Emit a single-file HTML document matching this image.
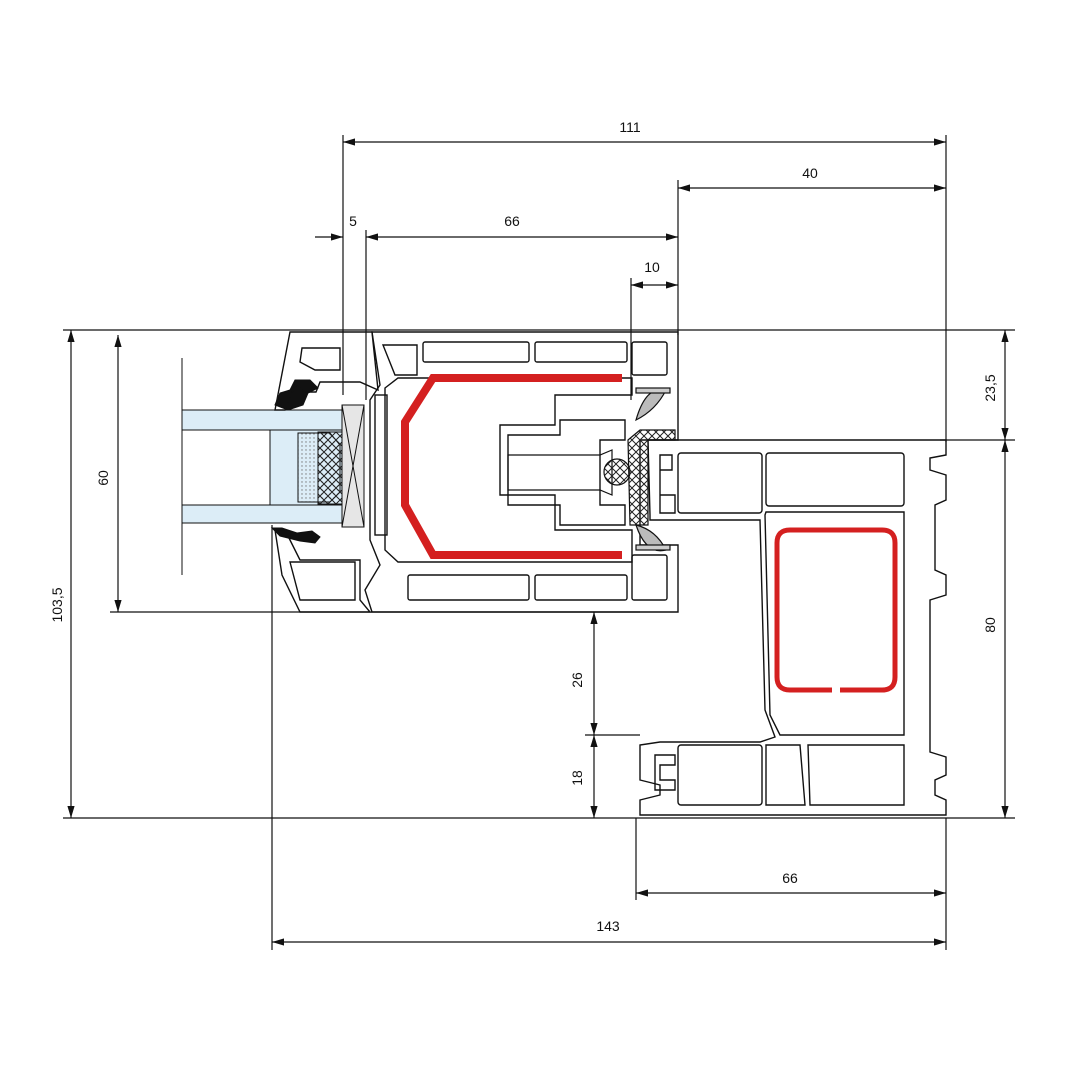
<!DOCTYPE html>
<html><head><meta charset="utf-8"><style>html,body{margin:0;padding:0;background:#fff}svg{display:block}</style></head><body>
<svg width="1080" height="1080" viewBox="0 0 1080 1080" xmlns="http://www.w3.org/2000/svg" font-family="Liberation Sans, sans-serif" font-size="14" fill="none" stroke="#111">
<defs>
<marker id="a" viewBox="0 0 10 6" refX="10" refY="3" markerWidth="10" markerHeight="6" orient="auto-start-reverse"><path d="M0,0 L10,3 L0,6z" fill="#111" stroke="none"/></marker>
<pattern id="dots" width="4" height="4" patternUnits="userSpaceOnUse"><circle cx="2" cy="2" r="0.7" fill="#777" stroke="none"/></pattern>
<pattern id="hatch" width="8" height="8" patternUnits="userSpaceOnUse"><path d="M0,0L8,8M8,0L0,8" stroke="#222" stroke-width="1"/></pattern>
</defs>
<g stroke-width="1.2">
<line x1="63" y1="330" x2="1015" y2="330"/>
<line x1="63" y1="818" x2="1015" y2="818"/>
<line x1="110" y1="612" x2="640" y2="612"/>
<line x1="940" y1="440" x2="1015" y2="440"/>
<line x1="585" y1="735" x2="640" y2="735"/>
<line x1="343" y1="135" x2="343" y2="395"/>
<line x1="366" y1="230" x2="366" y2="400"/>
<line x1="946" y1="135" x2="946" y2="442"/>
<line x1="678" y1="180" x2="678" y2="335"/>
<line x1="631" y1="278" x2="631" y2="400"/>
<line x1="272" y1="525" x2="272" y2="950"/>
<line x1="636" y1="818" x2="636" y2="900"/>
<line x1="946" y1="818" x2="946" y2="950"/>
<line x1="343" y1="142" x2="946" y2="142" marker-start="url(#a)" marker-end="url(#a)"/>
<line x1="678" y1="188" x2="946" y2="188" marker-start="url(#a)" marker-end="url(#a)"/>
<line x1="315" y1="237" x2="343" y2="237" marker-end="url(#a)"/>
<line x1="366" y1="237" x2="678" y2="237" marker-start="url(#a)" marker-end="url(#a)"/>
<line x1="631" y1="285" x2="678" y2="285" marker-start="url(#a)" marker-end="url(#a)"/>
<line x1="71" y1="330" x2="71" y2="818" marker-start="url(#a)" marker-end="url(#a)"/>
<line x1="118" y1="335" x2="118" y2="612" marker-start="url(#a)" marker-end="url(#a)"/>
<line x1="1005" y1="330" x2="1005" y2="440" marker-start="url(#a)" marker-end="url(#a)"/>
<line x1="1005" y1="440" x2="1005" y2="818" marker-start="url(#a)" marker-end="url(#a)"/>
<line x1="594" y1="612" x2="594" y2="735" marker-start="url(#a)" marker-end="url(#a)"/>
<line x1="594" y1="735" x2="594" y2="818" marker-start="url(#a)" marker-end="url(#a)"/>
<line x1="636" y1="893" x2="946" y2="893" marker-start="url(#a)" marker-end="url(#a)"/>
<line x1="272" y1="942" x2="946" y2="942" marker-start="url(#a)" marker-end="url(#a)"/>
</g>
<g fill="#111" stroke="none">
<text x="630" y="132" text-anchor="middle">111</text>
<text x="810" y="178" text-anchor="middle">40</text>
<text x="353" y="226" text-anchor="middle">5</text>
<text x="512" y="226" text-anchor="middle">66</text>
<text x="652" y="272" text-anchor="middle">10</text>
<text x="790" y="883" text-anchor="middle">66</text>
<text x="608" y="931" text-anchor="middle">143</text>
<text transform="translate(62,605) rotate(-90)" text-anchor="middle">103,5</text>
<text transform="translate(108,478) rotate(-90)" text-anchor="middle">60</text>
<text transform="translate(995,388) rotate(-90)" text-anchor="middle">23,5</text>
<text transform="translate(995,625) rotate(-90)" text-anchor="middle">80</text>
<text transform="translate(582,680) rotate(-90)" text-anchor="middle">26</text>
<text transform="translate(582,778) rotate(-90)" text-anchor="middle">18</text>
</g>
<g stroke-width="1">
<line x1="182" y1="358" x2="182" y2="575"/>
<rect x="182" y="410" width="160" height="20" fill="#dcedf7"/>
<rect x="182" y="505" width="160" height="18" fill="#dcedf7"/>
<rect x="270" y="430" width="72" height="75" fill="#dcedf7"/>
<path d="M298,433 H330 L340,445 V492 L330,502 H298z" fill="url(#dots)"/>
<rect x="318" y="432" width="24" height="72" fill="url(#hatch)"/>
<rect x="342" y="405" width="22" height="122" fill="#e6e6e6"/>
<path d="M342,405 L364,527 M364,405 L342,527"/>
</g>
<path d="M275,405 l5,-12 10,-3 5,-10 15,0 8,8 -10,5 -5,12 -15,5z" fill="#111"/>
<path d="M272,528 l10,0 15,5 15,-2 8,6 -5,6 -15,-2 -20,-5z" fill="#111"/>
<g stroke-width="1.4">
<path d="M290,332 H372 L378,390 L360,382 H320 L316,392 H305 L295,385 L285,410 H275z"/>
<path d="M302,348 H340 V370 H315 L300,362z"/>
<path d="M275,530 H285 L300,560 H360 V600 L370,612 H300 L282,575z"/>
<path d="M290,562 H355 V600 H300z"/>
<path d="M372,332 H678 V440 H640 V545 H678 V612 H372 L365,590 L380,565 L370,540 V400 L380,385z"/>
<path d="M383,345 H417 V375 H395z"/>
<rect x="423" y="342" width="106" height="20" rx="2"/>
<rect x="535" y="342" width="92" height="20" rx="2"/>
<rect x="632" y="342" width="35" height="33" rx="2"/>
<rect x="408" y="575" width="121" height="25" rx="2"/>
<rect x="535" y="575" width="92" height="25" rx="2"/>
<rect x="632" y="555" width="35" height="45" rx="2"/>
<path d="M385,388 L398,378 H632 V395 H555 V425 H500 V495 H555 V530 H632 V562 H398 L385,550z"/>
<path d="M508,435 H560 V420 H625 V440 H600 V505 H625 V525 H560 V505 H508z"/>
<rect x="375" y="395" width="12" height="140"/>
</g>
<path d="M622,378 H433 L405,422 V505 L433,555 H622" stroke="#d42020" stroke-width="8"/>
<g stroke-width="1.2">
<path d="M508,455 H600 L612,450 V495 L600,490 H508z"/>
<circle cx="617" cy="472" r="13" fill="url(#hatch)"/>
<path d="M628,440 L640,430 H675 V440 H648 V525 L630,525z" fill="url(#hatch)"/>
<path d="M636,420 q10,-35 30,-30 q-10,20 -30,30z" fill="#bbb"/>
<path d="M636,525 q10,30 30,25 q-10,-20 -30,-25z" fill="#bbb"/>
<rect x="636" y="388" width="34" height="5" fill="#ccc"/>
<rect x="636" y="545" width="34" height="5" fill="#ccc"/>
</g>
<g stroke-width="1.4">
<path d="M648,440 H946 V455 L930,458 V470 L946,475 V500 L935,505 V570 L946,575 V595 L930,600 V752 L946,757 V775 L935,780 V795 L946,800 V815 L640,815 V800 L660,795 V785 L640,780 V745 L660,742 H760 L775,737 L765,710 L760,520 H650 V515 Z"/>
<path d="M660,455 H672 V470 H660 V495 H675 V513 H660 Z"/>
<rect x="678" y="453" width="84" height="60" rx="3"/>
<rect x="766" y="453" width="138" height="53" rx="3"/>
<path d="M766,512 H904 V735 H780 L770,715 L765,515z"/>
<rect x="678" y="745" width="84" height="60" rx="3"/>
<path d="M766,745 H800 L805,805 H766z"/>
<path d="M808,745 H904 V805 H810z"/>
<path d="M655,755 H675 V765 H660 V780 H675 V790 H655z"/>
</g>
<path d="M832,690 H790 Q777,690 777,677 V543 Q777,530 790,530 H882 Q895,530 895,543 V677 Q895,690 882,690 H840" stroke="#d42020" stroke-width="5"/>
</svg>
</body></html>
